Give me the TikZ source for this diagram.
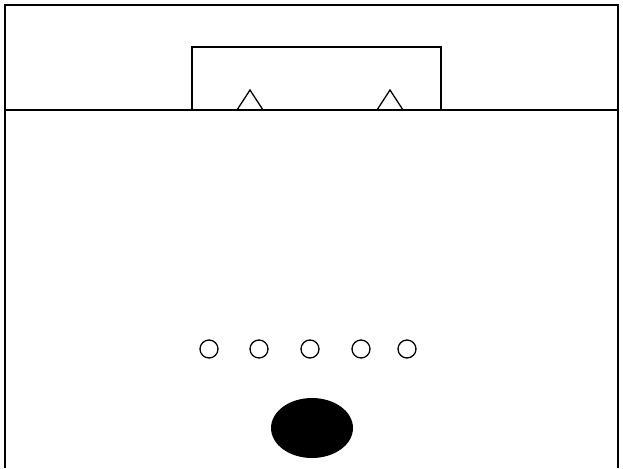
\documentclass[tikz,border=0pt]{standalone}
\usepackage{xcolor}
\usepackage{tikz}
\usetikzlibrary{shapes.geometric}

\begin{document}
\begin{tikzpicture}[
  x=1pt, y=-1pt,
  wall/.style={draw=black, line width=2pt},
  goalbox/.style={draw=black, line width=1.5pt},
  marker/.style={draw=black, line width=1.3pt},
  spot/.style={circle, draw=black, line width=1.3pt, minimum size=18pt, inner sep=0pt},
  ball/.style={ellipse, fill=black, minimum width=82pt, minimum height=60pt, inner sep=0pt},
]
  \useasboundingbox (0,0) rectangle (623,468);
  %% outer frame and line
  \draw[wall] (5,468) -- (5,5) -- (618,5) -- (618,468);
  \draw[wall] (5,110) -- (618,110);
  %% box on the line
  \draw[goalbox] (192,110) -- (192,47) -- (441,47) -- (441,110);
  \draw[marker] (237,110) -- (250,90) -- (263,110);
  \draw[marker] (377,110) -- (390,90) -- (403,110);
  %% row of spots
  \foreach \x/\n in {209/s1,259/s2,310/s3,361/s4,407/s5}
    \node[spot] (\n) at (\x,349) {};
  \node[ball] (b) at (312,428) {};
\end{tikzpicture}
\end{document}
